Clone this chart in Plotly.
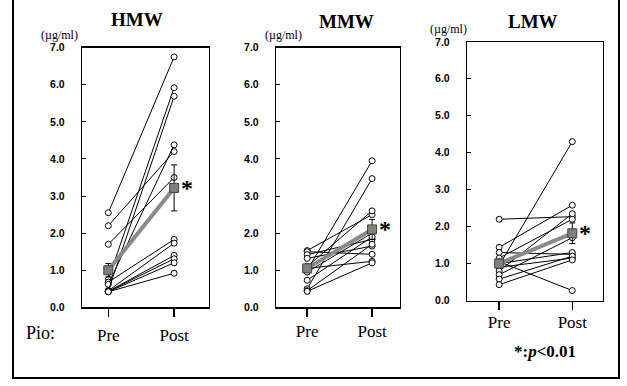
import plotly.graph_objects as go

W, H = 627, 386

# ---------------- data ----------------
categories = ["Pre", "Post"]
panel_titles = ["HMW", "MMW", "LMW"]
ytick_vals = [0, 1, 2, 3, 4, 5, 6, 7]
ytick_text = ["0.0", "1.0", "2.0", "3.0", "4.0", "5.0", "6.0", "7.0"]

hmw_pre = [2.55, 2.20, 1.70, 0.75, 0.68, 0.62, 0.45, 0.45, 0.43, 0.43, 0.42, 0.42]
hmw_post = [6.75, 4.20, 3.50, 5.92, 1.83, 4.38, 5.69, 1.73, 1.40, 1.31, 1.20, 0.92]
hmw_mean = [1.00, 3.22]
hmw_se = [0.18, 0.62]

mmw_pre = [1.53, 1.50, 1.42, 1.32, 1.10, 1.05, 1.00, 0.95, 0.73, 0.50, 0.45, 0.43]
mmw_post = [2.50, 1.43, 1.83, 1.65, 2.60, 1.24, 3.95, 2.00, 1.90, 3.47, 1.70, 1.20]
mmw_mean = [1.05, 2.10]
mmw_se = [0.10, 0.27]

lmw_pre = [2.20, 1.44, 1.30, 1.15, 1.05, 1.00, 0.95, 0.90, 0.80, 0.70, 0.58, 0.43]
lmw_post = [2.27, 2.58, 1.25, 2.20, 0.27, 1.30, 4.30, 1.15, 2.35, 1.70, 1.20, 1.10]
lmw_mean = [1.00, 1.82]
lmw_se = [0.10, 0.28]

panels = [
    (hmw_pre, hmw_post, hmw_mean, hmw_se),
    (mmw_pre, mmw_post, mmw_mean, mmw_se),
    (lmw_pre, lmw_post, lmw_mean, lmw_se),
]

# ---------------- layout geometry (pixels) ----------------
boxes = [  # left, right, top, bottom
    (82, 209, 43, 311),
    (276, 400, 43, 311),
    (467, 603, 37, 304),
]
xranges = [(-0.40, 1.53), (-0.48, 1.43), (-0.44, 1.42)]
xlabel_standoff = [4, 0, -2]


def px(x):
    return x / W


def py(y):
    return 1 - y / H


SERIF = "Liberation Serif, Times New Roman, serif"
SANS = "Liberation Sans, Arial, sans-serif"

fig = go.Figure()

for i, (pre, post, mean, se) in enumerate(panels):
    xa = "x" if i == 0 else f"x{i+1}"
    ya = "y" if i == 0 else f"y{i+1}"
    for a, b in zip(pre, post):
        fig.add_trace(go.Scatter(
            x=[0, 1], y=[a, b], xaxis=xa, yaxis=ya, mode="lines+markers",
            line=dict(color="black", width=1),
            marker=dict(symbol="circle", size=6, color="white",
                        line=dict(color="black", width=1)),
            showlegend=False, hoverinfo="skip"))
    fig.add_trace(go.Scatter(
        x=[0, 1], y=mean, xaxis=xa, yaxis=ya, mode="lines+markers",
        line=dict(color="#8a8a8a", width=4),
        marker=dict(symbol="square", size=9, color="#808080",
                    line=dict(color="#404040", width=1)),
        error_y=dict(type="data", array=se, color="black", thickness=1,
                     width=3),
        showlegend=False, hoverinfo="skip"))

layout = dict(
    width=W, height=H, margin=dict(l=0, r=0, t=0, b=0),
    paper_bgcolor="white", plot_bgcolor="white", showlegend=False,
)

for i, (l, r, t, b) in enumerate(boxes):
    sx = "" if i == 0 else str(i + 1)
    ya = "y" if i == 0 else f"y{i+1}"
    xa = "x" if i == 0 else f"x{i+1}"
    layout[f"xaxis{sx}"] = dict(
        domain=[px(l), px(r)], range=list(xranges[i]), anchor=ya,
        tickvals=[0, 1], ticktext=categories, ticks="outside", ticklen=8,
        tickwidth=1.5, tickcolor="black", showline=True, mirror=True,
        linecolor="black", linewidth=1.2, showgrid=False, zeroline=False,
        tickfont=dict(family=SERIF, size=17, color="black"),
        ticklabelstandoff=xlabel_standoff[i], fixedrange=True)
    layout[f"yaxis{sx}"] = dict(
        domain=[py(b), py(t)], range=[0, 7], anchor=xa,
        tickvals=ytick_vals, ticktext=ytick_text, ticks="inside", ticklen=4,
        tickcolor="black", showline=True, mirror=True, linecolor="black",
        linewidth=1.2, showgrid=False, zeroline=False,
        tickfont=dict(family=SANS, size=10.5, color="black", weight="bold"),
        ticklabelstandoff=14, fixedrange=True)
    # overlay axis for the inner half of the crossing tick marks
    layout[f"xaxis{i+4}"] = dict(
        domain=[px(l), px(r)], range=list(xranges[i]), anchor=ya,
        overlaying=xa, tickvals=[0, 1], ticks="inside", ticklen=7,
        tickwidth=1.5, tickcolor="black", showticklabels=False,
        showline=False, showgrid=False, zeroline=False, fixedrange=True)

fig.update_layout(**layout)


def note(x, y, text, font, **kw):
    d = dict(x=px(x), y=py(y), xref="paper", yref="paper", text=text,
             showarrow=False, xanchor="center", yanchor="middle", font=font)
    d.update(kw)
    return d


annotations = []
title_pos = [(137, 14), (346, 16), (533, 16)]
for (x, y), t in zip(title_pos, panel_titles):
    annotations.append(note(x, y, f"<b>{t}</b>",
                            dict(family=SERIF, size=19, color="black")))
unit_pos = [(59, 30), (283, 30), (448, 24)]
for x, y in unit_pos:
    annotations.append(note(x, y, "(µg/ml)",
                            dict(family=SERIF, size=12, color="black")))
annotations.append(note(40, 338, "Pio:",
                        dict(family=SERIF, size=18, color="black")))
annotations.append(note(545, 357, "<b>*:<i>p</i>&lt;0.01</b>",
                        dict(family=SERIF, size=17, color="black")))
for i, (pre, post, mean, se) in enumerate(panels):
    xa = "x" if i == 0 else f"x{i+1}"
    ya = "y" if i == 0 else f"y{i+1}"
    annotations.append(dict(x=1, y=mean[1], xref=xa, yref=ya, text="<b>*</b>",
                            showarrow=False, xanchor="center",
                            yanchor="middle", xshift=13, yshift=0,
                            font=dict(family=SERIF, size=24, color="black")))
fig.update_layout(annotations=annotations)

fig.add_shape(type="rect", xref="paper", yref="paper",
              x0=px(13), x1=px(619), y0=py(384), y1=1.1,
              line=dict(color="black", width=2), fillcolor="rgba(0,0,0,0)")

fig.write_html(
    "out.html",
    config={"displayModeBar": False, "staticPlot": True},
    post_script="document.body.style.margin='0px';"
                "document.body.style.overflow='hidden';")
